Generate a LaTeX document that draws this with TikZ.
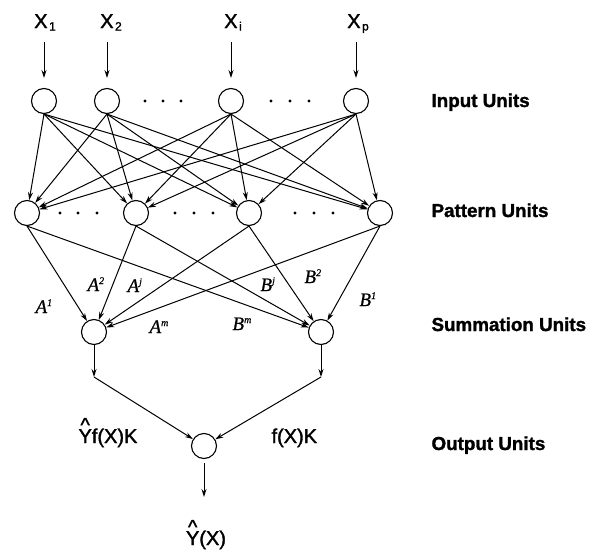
\documentclass[tikz,border=0pt]{standalone}
\usepackage{fontspec}
\setmainfont{Liberation Sans}
\newfontfamily\sigfont{Liberation Sans}[FakeBold=1.6]
\newfontfamily\headfont{Liberation Sans Bold}[FakeBold=1.4]
\newfontfamily\tms{Liberation Serif Italic}[FakeBold=0.8]
\usetikzlibrary{arrows.meta}

\tikzset{
  unit/.style={draw, circle, minimum size=25pt, inner sep=0pt, line width=1.1pt},
  link/.style={line width=1pt, -{Stealth[length=8pt,width=5pt]}},
  pdot/.style={fill, circle, inner sep=0pt, minimum size=3.4pt},
  layername/.style={anchor=base west, font=\headfont\fontsize{18.8}{19}\selectfont},
  sig/.style={anchor=base, font=\sigfont\fontsize{20}{20}\selectfont},
  wt/.style={anchor=base west, font=\tms\fontsize{19}{19}\selectfont},
}
\newcommand\sbx[1]{\hspace{1.5pt}\raisebox{-2.5pt}{\fontsize{12}{12}\selectfont #1}}
\newcommand\spx[1]{\raisebox{7pt}{\fontsize{10}{10}\selectfont #1}}
\newcommand\hatY{\makebox[0pt][l]{\makebox[.667em][c]{\raisebox{.56em}{\^{}}}}Y}

\begin{document}
\begin{tikzpicture}[x=1pt, y=-1pt]
\useasboundingbox (0,0) rectangle (595,552);

% input signals
\node[sig] (x1) at (45,28) {X\sbx{1}};
\node[sig] (x2) at (111,28) {X\sbx{2}};
\node[sig] (xi) at (233,28) {X\sbx{i}};
\node[sig] (xp) at (358,28) {X\sbx{p}};
\foreach \n/\x in {1/44, 2/107, 3/231, 4/356} {
  \coordinate (t\n) at (\x,42);
  \coordinate (h\n) at (\x,78);
  \draw[link] (t\n) -- (h\n);
}

% input layer
\node[unit] (i1) at (44,101) {};
\node[unit] (i2) at (107,101) {};
\node[unit] (i3) at (231,101) {};
\node[unit] (i4) at (356,101) {};
\foreach \x in {145,163,181,271,290,309} \node[pdot] at (\x,101) {};

% pattern layer
\node[unit] (p1) at (27,213) {};
\node[unit] (p2) at (136,213) {};
\node[unit] (p3) at (249,213) {};
\node[unit] (p4) at (380,213) {};
\foreach \x in {60,78,97,175,194,213,295,314,333} \node[pdot] at (\x,213) {};

% summation layer
\node[unit] (s1) at (94,332) {};
\node[unit] (s2) at (321,332) {};

% output layer
\node[unit] (o) at (204,446) {};

% input -> pattern (fully connected)
\foreach \i in {1,...,4}
  \foreach \j in {1,...,4}
    \draw[link] (i\i.south) -- (p\j);

% pattern -> summation
\foreach \j in {1,...,4} {
  \draw[link] (p\j.south) -- (s1);
  \draw[link] (p\j.south) -- (s2);
}

% summation -> output
\coordinate (k1) at (94,377);
\coordinate (k2) at (321,377);
\draw[link] (s1.south) -- (k1);
\draw[link] (s2.south) -- (k2);
\draw[link] (k1) -- (o);
\draw[link] (k2) -- (o);

% output arrow
\coordinate (ot) at (204,463);
\coordinate (oh) at (204,497);
\draw[link] (ot) -- (oh);

% weight labels
\node[wt] (a1) at (32,313) {A\spx{1}};
\node[wt] (a2) at (84,291) {A\spx{2}};
\node[wt] (aj) at (124,292) {A\spx{j}};
\node[wt] (am) at (146,333) {A\spx{m}};
\node[wt] (bm) at (229,330) {B\spx{m}};
\node[wt] (bj) at (257,291) {B\spx{j}};
\node[wt] (b2) at (301,283) {B\spx{2}};
\node[wt] (b1) at (356,306) {B\spx{1}};

% summation outputs and result
\node[sig, anchor=base west] (ln) at (75,443) {\hatY f(X)K};
\node[sig, anchor=base west] (ld) at (268,443) {f(X)K};
\node[sig] (res) at (206,545) {\hatY(X)};

% layer names
\node[layername] (n1) at (428,107) {Input Units};
\node[layername] (n2) at (428,217) {Pattern Units};
\node[layername] (n3) at (428,331) {Summation Units};
\node[layername] (n4) at (428,450) {Output Units};
\end{tikzpicture}
\end{document}
